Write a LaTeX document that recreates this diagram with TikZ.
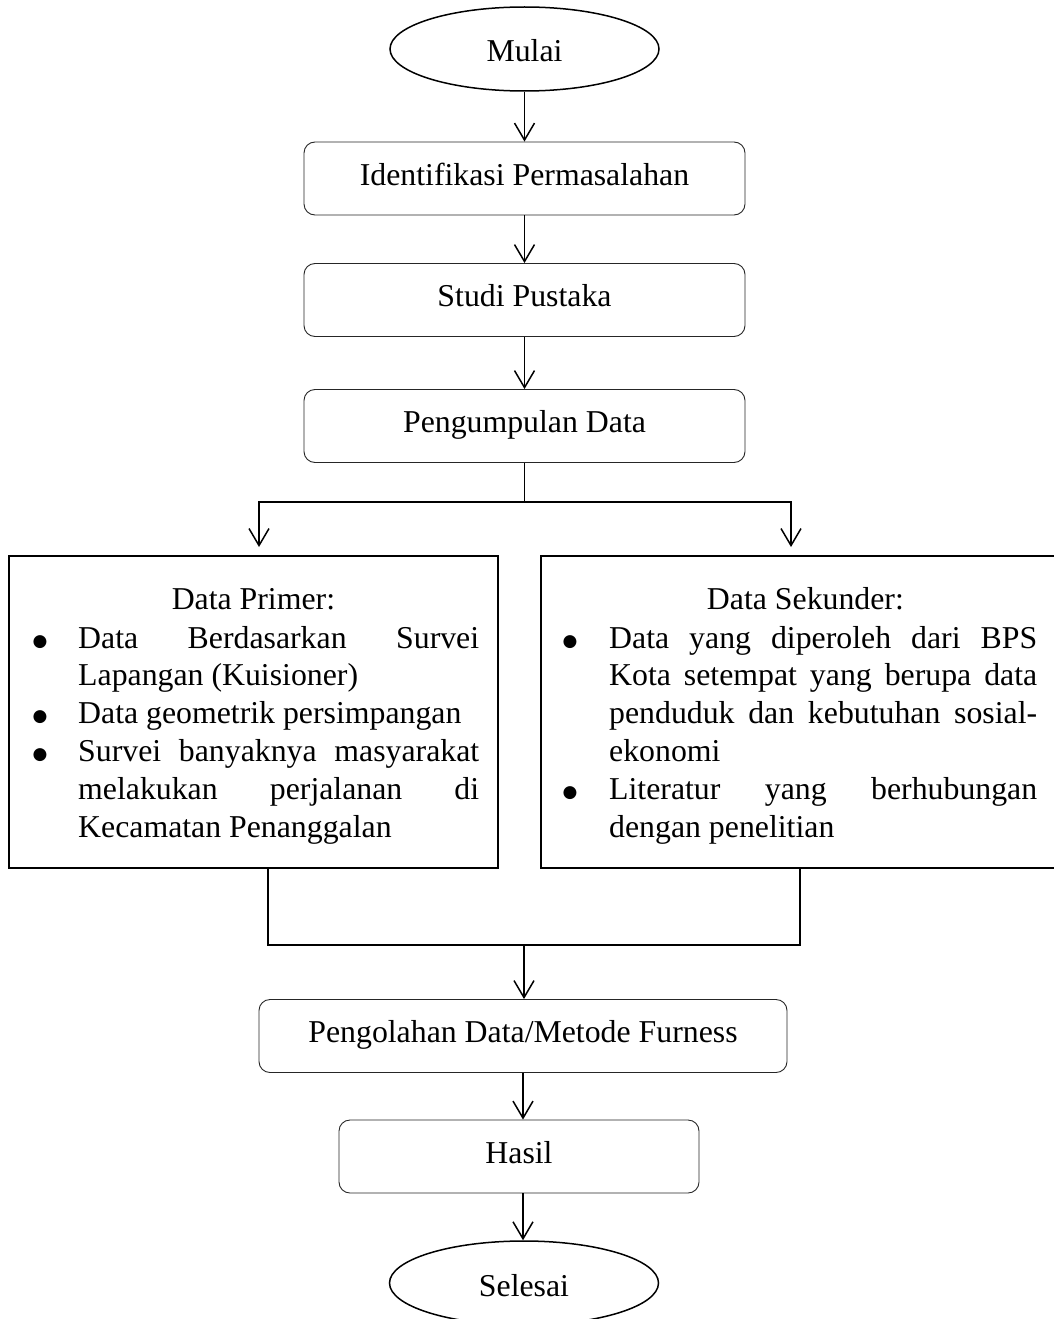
\documentclass[tikz,border=0pt]{standalone}
\usepackage{fontspec}
\setmainfont{Liberation Serif}
\newfontfamily\markfont{DejaVu Sans}
\usetikzlibrary{arrows.meta,shapes.geometric}

% a round bullet mark for the lists
\newcommand\bigbullet{\raisebox{2pt}{\markfont\fontsize{17pt}{0pt}\selectfont ●}}
% one justified bullet row: indent width, text width, contents
\newcommand\itemrow[3]{\hbox{\hbox to #1{\kern-1pt\bigbullet\hfil}\hbox to #2{#3}}}
\newcommand\controw[3]{\hbox{\hbox to #1{\hfil}\hbox to #2{#3}}}

\begin{document}
\begin{tikzpicture}[x=1pt,y=-1pt,
  font=\fontsize{31.8pt}{38pt}\selectfont,
  terminal/.style={draw, line width=1.5pt, ellipse, minimum width=269pt,
    minimum height=84pt, text height=26pt, text depth=0pt, inner sep=0pt},
  process/.style={draw=black!85, line width=0.9pt, rounded corners=11pt,
    text height=43pt, text depth=30pt, inner ysep=0pt, inner xsep=0pt},
  databox/.style={draw, line width=2pt, rectangle, inner sep=0pt,
    minimum height=312pt},
  flow/.style={line width=1.5pt,
    -{Straight Barb[length=17pt, width=20pt, line width=1.5pt]}},
  link/.style={line width=1.5pt}
]
\useasboundingbox (0,0) rectangle (1054,1319);

% main column
\node[terminal] (mulai) at (524.5,49) {Mulai};
\node[process, minimum width=441pt] (ident) at (524.5,178.5) {Identifikasi Permasalahan};
\node[process, minimum width=441pt] (studi) at (524.5,300) {Studi Pustaka};
\node[process, minimum width=441pt] (kumpul) at (524.5,426) {Pengumpulan Data};

% the two data boxes
\node[databox, minimum width=489pt] (primer) at (253.5,712) {};
\node[databox, minimum width=525pt] (sekunder) at (803.5,712) {};

\node[anchor=base west, inner sep=0pt] (primertext) at (33.5,609) {\vtop{%
  \baselineskip=37.8pt
  \hbox to 445.5pt{\hfil Data Primer:\hfil\kern6pt}
  \vskip1.2pt
  \itemrow{44.5pt}{401pt}{Data Berdasarkan Survei}
  \controw{44.5pt}{401pt}{Lapangan (Kuisioner)\hfil}
  \itemrow{44.5pt}{401pt}{Data geometrik persimpangan\hfil}
  \itemrow{44.5pt}{401pt}{Survei banyaknya masyarakat}
  \controw{44.5pt}{401pt}{melakukan perjalanan di}
  \controw{44.5pt}{401pt}{Kecamatan Penanggalan\hfil}}};

\node[anchor=base west, inner sep=0pt] (sekundertext) at (563.5,609) {\vtop{%
  \baselineskip=37.8pt
  \hbox to 473.5pt{\kern10pt\hfil Data Sekunder:\hfil}
  \vskip1.2pt
  \itemrow{45.5pt}{428pt}{Data yang diperoleh dari BPS}
  \controw{45.5pt}{428pt}{Kota setempat yang berupa data}
  \controw{45.5pt}{428pt}{penduduk dan kebutuhan sosial-}
  \controw{45.5pt}{428pt}{ekonomi\hfil}
  \itemrow{45.5pt}{428pt}{Literatur yang berhubungan}
  \controw{45.5pt}{428pt}{dengan penelitian\hfil}}};

% lower column
\node[process, minimum width=528pt] (olah) at (523,1036) {Pengolahan Data/Metode Furness};
\node[process, minimum width=360pt] (hasil) at (519,1156.5) {Hasil};
\node[terminal] (selesai) at (524,1283) {Selesai};

% connectors
\draw[flow] (mulai) -- (ident);
\draw[flow] (ident) -- (studi);
\draw[flow] (studi) -- (kumpul);

\coordinate (tipP) at (259,547);
\coordinate (tipS) at (791,547);
\draw[flow] (kumpul.south) -- ++(0,39) -| (tipP);
\draw[flow] (kumpul.south) -- ++(0,39) -| (tipS);

\coordinate (jL) at (268,945);
\coordinate (jR) at (800,945);
\coordinate (jM) at (524,945);
\draw[link] (primer.south -| jL) |- (jR) -- (sekunder.south -| jR);
\draw[flow] (jM) -- (jM |- olah.north);

\draw[flow] (olah.south) -- (olah.south |- hasil.north);
\draw[flow] (olah.south |- hasil.south) -- (olah.south |- selesai.north);
\end{tikzpicture}
\end{document}
